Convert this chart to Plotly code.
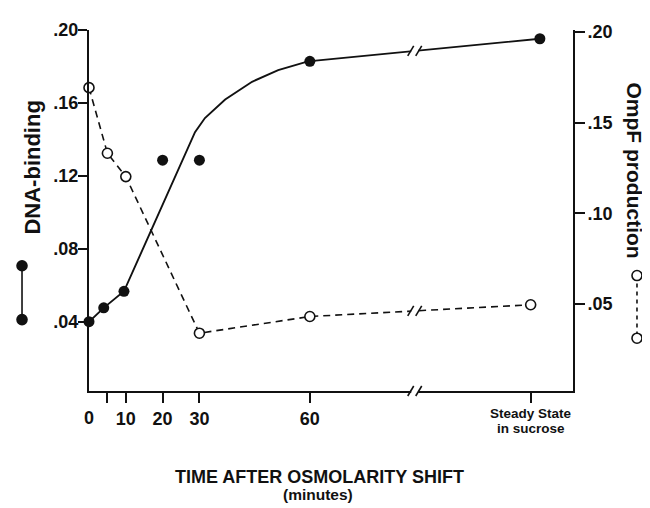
import numpy as np
import plotly.graph_objects as go

# ---------------- data ----------------
# x positions in minutes; "steady state" placed beyond an axis break
tick_minutes = [5, 10, 20, 30, 60, 120]
tick_labels = ["", "10", "20", "30", "60", ""]
steady_label = ["Steady State", "in sucrose"]

# DNA-binding (filled circles, left axis)
dna_x = [0, 4, 9.5, 20, 30, 60, 122.5]
dna_y = [0.040, 0.0476, 0.0567, 0.1286, 0.1286, 0.1828, 0.1952]

# DNA-binding fitted curve (solid line)
curve_x = [0, 4, 9.5, 28.8, 31.5, 37, 44.3, 51.4, 59.5, 122.5]
curve_y = [0.040, 0.0476, 0.0567, 0.144, 0.1517, 0.1619, 0.1716, 0.178, 0.1828, 0.1952]

# OmpF production (open circles, right axis)
ompf_x = [0, 5, 10, 30, 60, 120]
ompf_y = [0.1693, 0.1331, 0.1202, 0.0338, 0.0430, 0.0495]

left_ticks = [0.04, 0.08, 0.12, 0.16, 0.20]
left_labels = [".04", ".08", ".12", ".16", ".20"]
right_ticks = [0.05, 0.10, 0.15, 0.20]
right_labels = [".05", ".10", ".15", ".20"]

break_x = 88.5  # axis break position (minutes)

FONT = "Arial, Liberation Sans, Helvetica, sans-serif"
INK = "#111111"

fig = go.Figure()

fig.add_trace(go.Scatter(x=curve_x, y=curve_y, mode="lines",
                         line=dict(color=INK, width=1.9), yaxis="y",
                         showlegend=False, hoverinfo="skip"))
fig.add_trace(go.Scatter(x=dna_x, y=dna_y, mode="markers",
                         marker=dict(color=INK, size=11, line=dict(width=0)),
                         yaxis="y", cliponaxis=False, showlegend=False))
fig.add_trace(go.Scatter(x=ompf_x, y=ompf_y, mode="lines+markers",
                         line=dict(color=INK, width=1.6, dash="7px,5px"),
                         marker=dict(color="white", size=10,
                                     line=dict(color=INK, width=1.6)),
                         yaxis="y2", cliponaxis=False, showlegend=False))

shapes = []


def add_break(yref, yval):
    # white gap + two slashes, sized in pixels around the break point
    shapes.append(dict(type="rect", xref="x", yref=yref, xsizemode="pixel",
                       ysizemode="pixel", xanchor=break_x, yanchor=yval,
                       x0=-3.5, x1=3.5, y0=-4, y1=4,
                       fillcolor="white", line=dict(width=0), layer="above"))
    for dx in (-4, 4):
        shapes.append(dict(type="line", xref="x", yref=yref, xsizemode="pixel",
                           ysizemode="pixel", xanchor=break_x, yanchor=yval,
                           x0=dx - 3, x1=dx + 3, y0=-5, y1=5,
                           line=dict(color=INK, width=1.6), layer="above"))


add_break("y", float(np.interp(break_x, curve_x, curve_y)))
add_break("y2", float(np.interp(break_x, ompf_x, ompf_y)))
add_break("paper", 0)


# legend keys beside axis titles
def key(xp, yps, filled, dash):
    shapes.append(dict(type="line", xref="paper", yref="paper",
                       x0=xp, x1=xp, y0=yps[0], y1=yps[1],
                       line=dict(color=INK, width=1.6, dash=dash)))
    for yp in yps:
        shapes.append(dict(type="circle", xref="paper", yref="paper",
                           xsizemode="pixel", ysizemode="pixel",
                           xanchor=xp, yanchor=yp, x0=-5, x1=5, y0=-5, y1=5,
                           fillcolor=INK if filled else "white",
                           line=dict(color=INK, width=1.6)))


key(-0.1384, [0.3469, 0.1978], True, "solid")
key(1.1322, [0.3198, 0.1463], False, "4px,4px")


def bold(s):
    return "<b>%s</b>" % s


annotations = [
    dict(text=bold("DNA-binding"), xref="paper", yref="paper", x=-0.1157, y=0.619,
         textangle=-90, showarrow=False, xanchor="center", yanchor="middle",
         font=dict(size=22, color=INK, family=FONT)),
    dict(text=bold("OmpF production"), xref="paper", yref="paper", x=1.128, y=0.611,
         textangle=90, showarrow=False, xanchor="center", yanchor="middle",
         font=dict(size=21, color=INK, family=FONT)),
    dict(text=bold("TIME AFTER OSMOLARITY SHIFT"), xref="paper", yref="paper",
         x=0.477, y=-0.237, showarrow=False, xanchor="center", yanchor="middle",
         font=dict(size=18, color=INK, family=FONT)),
    dict(text=bold("(minutes)"), xref="paper", yref="paper",
         x=0.473, y=-0.287, showarrow=False, xanchor="center", yanchor="middle",
         font=dict(size=15.5, color=INK, family=FONT)),
    dict(text=bold("0"), xref="x", yref="paper", x=0, y=-0.0759, showarrow=False,
         xanchor="center", yanchor="middle",
         font=dict(size=18, color=INK, family=FONT)),
    dict(text=bold(steady_label[0]), xref="x", yref="paper", x=tick_minutes[-1],
         y=-0.0623, showarrow=False, xanchor="center", yanchor="middle",
         font=dict(size=13.5, color=INK, family=FONT)),
    dict(text=bold(steady_label[1]), xref="x", yref="paper", x=tick_minutes[-1],
         y=-0.1030, showarrow=False, xanchor="center", yanchor="middle",
         font=dict(size=13.5, color=INK, family=FONT)),
]

axis_common = dict(showgrid=False, zeroline=False, showline=True,
                   linecolor=INK, linewidth=2, ticks="outside",
                   tickcolor=INK, tickwidth=2,
                   tickfont=dict(size=18, color=INK, family=FONT, weight="bold"))

fig.update_layout(
    width=642, height=500,
    margin=dict(l=81, r=77, t=14, b=117),
    paper_bgcolor="white", plot_bgcolor="white",
    showlegend=False,
    xaxis=dict(range=[0, 131.5], tickmode="array", tickvals=tick_minutes,
               ticktext=tick_labels, ticklen=10, **axis_common),
    yaxis=dict(range=[0.002, 0.2], tickmode="array", tickvals=left_ticks,
               ticktext=left_labels, ticklen=9, ticklabelstandoff=-4,
               **axis_common),
    yaxis2=dict(range=[0.0019, 0.2011], tickmode="array", tickvals=right_ticks,
                ticktext=right_labels, ticklen=10, overlaying="y", side="right",
                ticklabelstandoff=-1, **axis_common),
    shapes=shapes,
    annotations=annotations,
)

fig.write_html("out.html")
